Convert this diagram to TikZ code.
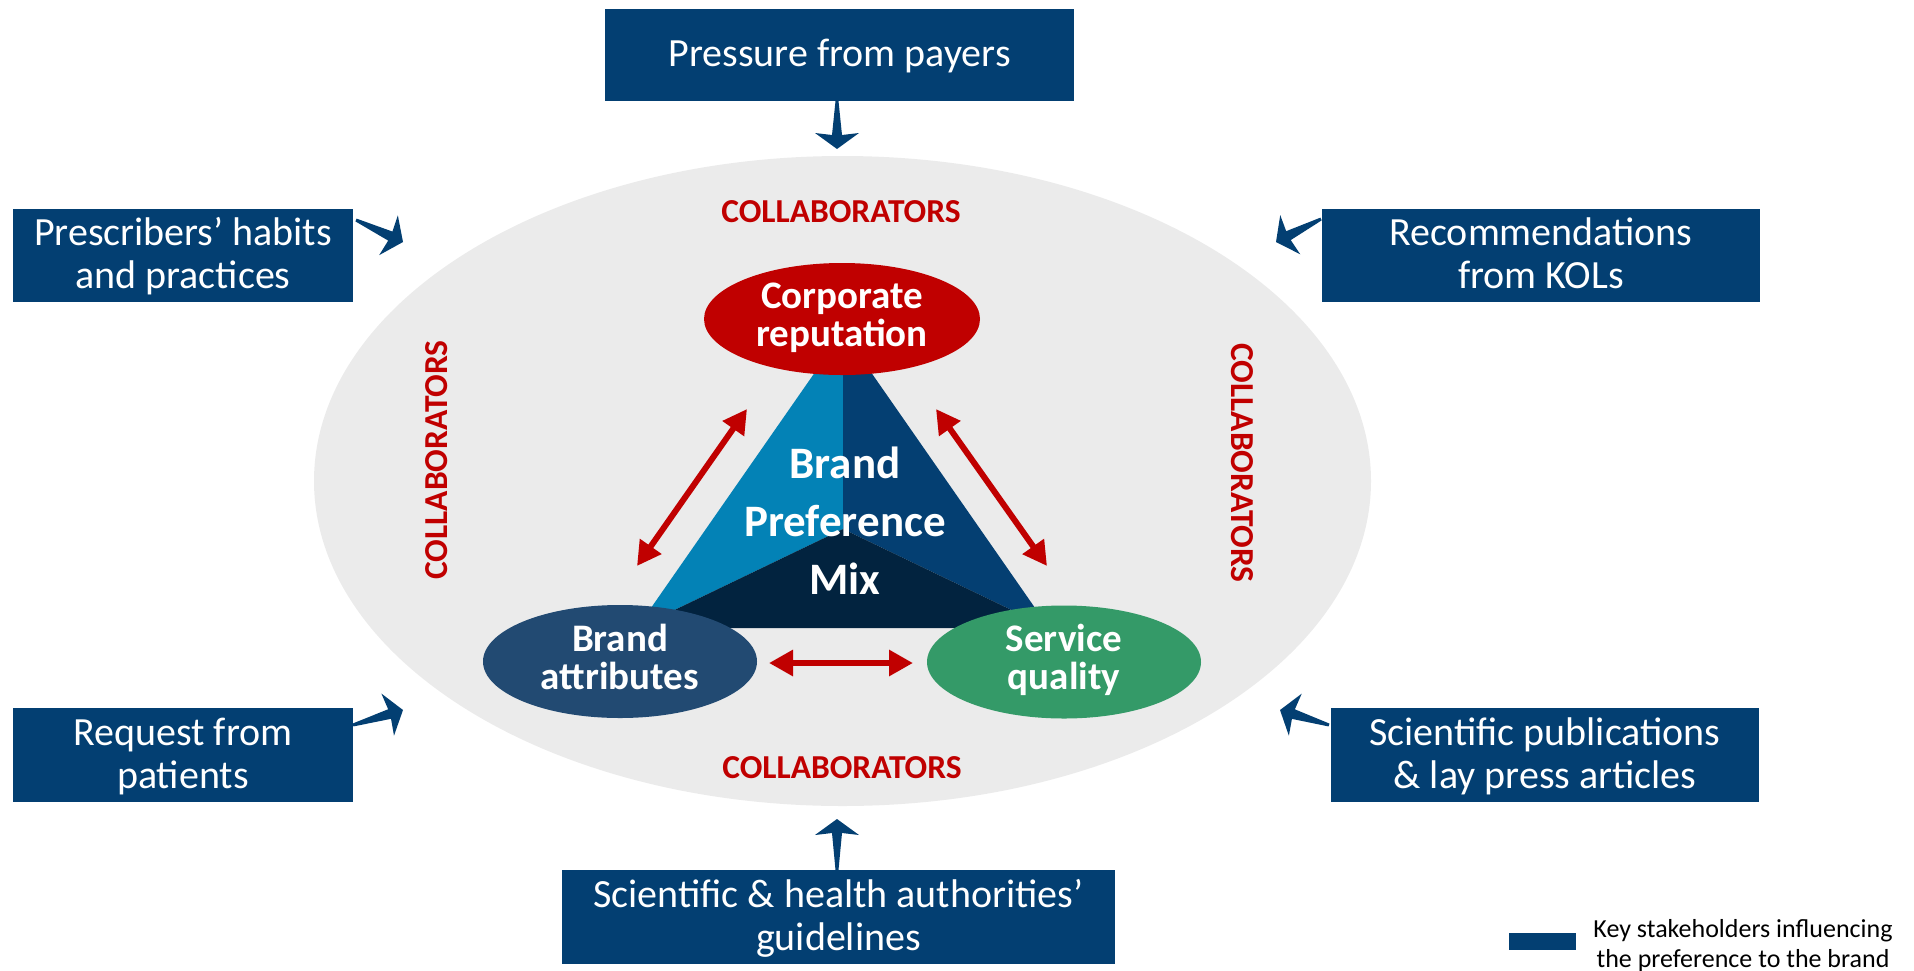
\documentclass[tikz,border=0pt]{standalone}
\usepackage{fontspec}
\setmainfont{Carlito}
\usetikzlibrary{calc,arrows.meta,shapes.geometric}
\definecolor{navy}{HTML}{033F72}
\definecolor{bgell}{HTML}{EBEBEB}
\definecolor{redc}{HTML}{C00000}
\definecolor{lblue}{HTML}{0382B6}
\definecolor{dblue}{HTML}{043F72}
\definecolor{ddblue}{HTML}{02233F}
\definecolor{attrblue}{HTML}{224A72}
\definecolor{sgreen}{HTML}{349A68}
\newcommand\ls[1]{\rule[-#1\baselineskip]{0pt}{\baselineskip}}
\newcommand\taperarrow[2]{%
  \path ($(#2)!16pt!(#1)$) coordinate (tb) ($(#2)!14pt!(#1)$) coordinate (tj);
  \fill[navy] ($(#1)!1.5pt!90:(#2)$) -- ($(tj)!5pt!90:(#2)$) -- ($(tb)!22pt!90:(#2)$) -- (#2)
     -- ($(tb)!22pt!-90:(#2)$) -- ($(tj)!5pt!-90:(#2)$) -- ($(#1)!1.5pt!-90:(#2)$) -- cycle;}
\begin{document}
\begin{tikzpicture}[x=1pt,y=-1pt,
  stake/.style={rectangle, fill=navy, text=white, inner sep=0pt, align=center,
    font=\fontsize{40}{43}\selectfont},
  oval/.style={ellipse, inner sep=0pt, text=white, align=center,
    font=\bfseries\fontsize{39}{35}\selectfont},
  collab/.style={text=redc, font=\bfseries\fontsize{33.5}{36}\selectfont, inner sep=0pt},
  redarrow/.style={draw=redc, line width=6pt,
    {Triangle[length=24pt,width=25pt]}-{Triangle[length=24pt,width=25pt]}},
]
\useasboundingbox (0,0) rectangle (1914,970);
% background ellipse
\node[ellipse, fill=bgell, minimum width=1057, minimum height=650, inner sep=0pt] (bg) at (842.5,481) {};
% triangle
\coordinate (apex) at (843,332);
\coordinate (bl) at (637,628);
\coordinate (br) at (1049,628);
\coordinate (cen) at (843,529);
\fill[lblue] (apex) -- (cen) -- (bl) -- cycle;
\fill[dblue] (apex) -- (cen) -- (br) -- cycle;
\fill[ddblue] (bl) -- (cen) -- (br) -- cycle;
\node[font=\bfseries\fontsize{45}{58}\selectfont, text=white, align=center, inner sep=0pt] (bpm) at (845,524.4)
  {\ls{0.3}Brand\\\ls{0.3}Preference\\\ls{0.3}Mix};
% ovals
\node[oval, fill=redc, minimum width=276, minimum height=112] (corp) at (842,319)
  {\ls{0.27}Corporate\\\ls{0.27}reputation};
\node[oval, fill=attrblue, minimum width=274, minimum height=113] (attr) at (620,661.5)
  {\ls{0.28}Brand\\\ls{0.28}attributes};
\node[oval, fill=sgreen, minimum width=274, minimum height=113] (serv) at (1064,662)
  {\ls{0.28}Service\\\ls{0.28}quality};
% red double arrows
\coordinate (l1) at (747,409); \coordinate (l2) at (637,566);
\coordinate (r1) at (936,409); \coordinate (r2) at (1047,566);
\coordinate (h1) at (769,663); \coordinate (h2) at (913,663);
\draw[redarrow] (l1) -- (l2);
\draw[redarrow] (r1) -- (r2);
\draw[redarrow] (h1) -- (h2);
% collaborators labels
\node[collab] (ctop) at (841,212) {COLLABORATORS};
\node[collab] (cbot) at (842,768) {COLLABORATORS};
\node[collab, rotate=90] (cleft) at (437,460) {COLLABORATORS};
\node[collab, rotate=-90] (cright) at (1242,463) {COLLABORATORS};
% stakeholder boxes
\node[stake, minimum width=469, minimum height=92] (payers) at (839.5,55)
  {\ls{0.23}Pressure from payers};
\node[stake, minimum width=340, minimum height=93] (presc) at (183,255.5)
  {\ls{0.23}Prescribers’ habits\\\ls{0.23}and practices};
\node[stake, minimum width=340, minimum height=94] (pat) at (183,755)
  {\ls{0.23}Request from\\\ls{0.23}patients};
\node[stake, minimum width=438, minimum height=93] (kol) at (1541,255.5)
  {\ls{0.23}Recommendations\\\ls{0.23}from KOLs};
\node[stake, minimum width=428, minimum height=94] (pub) at (1545,755)
  {\ls{0.23}Scientific publications\\\ls{0.23}\& lay press articles};
\node[stake, minimum width=553, minimum height=94] (guide) at (838.5,917)
  {\ls{0.23}Scientific \& health authorities’\\\ls{0.23}guidelines};
% tapered arrows
\coordinate (tTop) at (837,101); \coordinate (hTop) at (837,149);
\coordinate (tBot) at (837,870); \coordinate (hBot) at (837,819);
\coordinate (tPre) at (356,220); \coordinate (hPre) at (403,242);
\coordinate (tPat) at (353,725); \coordinate (hPat) at (403,710);
\coordinate (tKol) at (1321,219); \coordinate (hKol) at (1276,242);
\coordinate (tPub) at (1329,725); \coordinate (hPub) at (1280,710);
\taperarrow{tTop}{hTop}
\taperarrow{tBot}{hBot}
\taperarrow{tPre}{hPre}
\taperarrow{tPat}{hPat}
\taperarrow{tKol}{hKol}
\taperarrow{tPub}{hPub}
% legend
\node[fill=navy, minimum width=67, minimum height=17, inner sep=0pt] (legbox) at (1542.5,941.5) {};
\node[font=\fontsize{26}{30}\selectfont, align=center, inner sep=0pt] (legtext) at (1743,946)
  {\ls{0.3}Key stakeholders influencing\\\ls{0.3}the preference to the brand};
\end{tikzpicture}
\end{document}
